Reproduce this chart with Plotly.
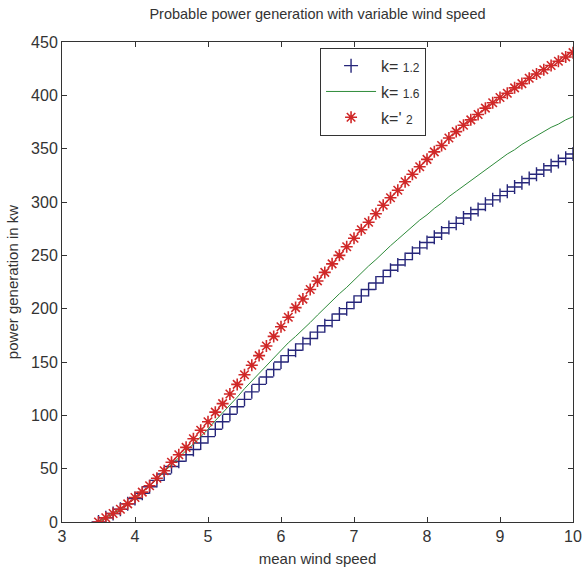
import plotly.graph_objects as go

wind_speed = [3.5, 3.6, 3.7, 3.8, 3.9, 4.0, 4.1, 4.2, 4.3, 4.4, 4.5, 4.6, 4.7, 4.8, 4.9,
              5.0, 5.1, 5.2, 5.3, 5.4, 5.5, 5.6, 5.7, 5.8, 5.9, 6.0, 6.1, 6.2, 6.3, 6.4,
              6.5, 6.6, 6.7, 6.8, 6.9, 7.0, 7.1, 7.2, 7.3, 7.4, 7.5, 7.6, 7.7, 7.8, 7.9,
              8.0, 8.1, 8.2, 8.3, 8.4, 8.5, 8.6, 8.7, 8.8, 8.9, 9.0, 9.1, 9.2, 9.3, 9.4,
              9.5, 9.6, 9.7, 9.8, 9.9, 10.0]

power_k12 = [0, 4, 8, 12, 17, 22, 27, 33, 39, 45, 52, 57, 63, 68, 74,
             80, 87, 94, 101, 108, 115, 122, 129, 136, 143, 150, 156, 161, 167, 172,
             178, 184, 189, 195, 200, 206, 212, 218, 224, 230, 236, 241, 246, 252, 257,
             262, 267, 271, 276, 280, 285, 289, 293, 298, 302, 306, 310, 314, 318, 322,
             326, 330, 334, 338, 341, 345]

power_k16 = [0, 4, 8, 12, 17, 22, 28, 34, 40, 47, 54, 60, 67, 73, 80,
             87, 95, 102, 110, 117, 125, 132, 140, 147, 154, 161, 168, 174, 181, 187,
             194, 201, 207, 214, 220, 227, 233, 240, 246, 253, 259, 265, 271, 277, 283,
             288, 294, 299, 305, 310, 315, 320, 325, 330, 335, 340, 345, 349, 354, 358,
             362, 366, 370, 373, 377, 380]

power_k2 = [0, 4, 8, 12, 17, 23, 28, 34, 41, 48, 56, 63, 70, 78, 86,
            94, 103, 111, 120, 129, 138, 147, 156, 165, 174, 183, 192, 201, 209, 218,
            226, 234, 242, 250, 258, 266, 274, 281, 289, 297, 304, 311, 319, 326, 333,
            340, 347, 353, 360, 366, 372, 377, 382, 388, 393, 398, 402, 407, 411, 416,
            420, 424, 428, 432, 436, 440]

x_ticks = [3, 4, 5, 6, 7, 8, 9, 10]
y_ticks = [0, 50, 100, 150, 200, 250, 300, 350, 400, 450]

FONT = "Liberation Sans, Arial, sans-serif"

def lab(k):
    return "k= <span style='font-size:12px'>" + k + "</span>"

fig = go.Figure()
fig.add_trace(go.Scatter(
    x=wind_speed, y=power_k12, mode="markers", name=lab("1.2"),
    legendgroup="a",
    marker=dict(symbol="cross-thin", size=10, color="#26267a",
                line=dict(color="#26267a", width=1.4))))
fig.add_trace(go.Scatter(
    x=wind_speed, y=power_k16, mode="lines", name=lab("1.6"),
    legendgroup="b",
    line=dict(color="#2e8b3a", width=1)))
fig.add_trace(go.Scatter(
    x=wind_speed, y=power_k2, mode="markers", name="k=' <span style='font-size:12px'>2</span>",
    legendgroup="c",
    marker=dict(symbol="asterisk", size=10, color="#d02828",
                line=dict(color="#d02828", width=1.6))))

axis_common = dict(showline=True, linecolor="#333333", linewidth=1, mirror="ticks",
                   ticks="inside", ticklen=5, tickcolor="#333333", showgrid=False,
                   zeroline=False, tickfont=dict(family=FONT, size=16, color="#333333"))

fig.update_layout(
    width=582, height=572,
    margin=dict(l=62, r=9, t=42, b=50, autoexpand=False),
    paper_bgcolor="white", plot_bgcolor="white",
    font=dict(family=FONT, color="#333333"),
    title=dict(text="Probable power generation with variable wind speed",
               xref="paper", x=0.5, xanchor="center", y=1 - 14 / 572, yanchor="middle",
               font=dict(family=FONT, size=14.5, color="#333333")),
    xaxis=dict(range=[3, 10], tickvals=x_ticks,
               title=dict(text="mean wind speed", standoff=9,
                          font=dict(family=FONT, size=15, color="#333333")),
               **axis_common),
    yaxis=dict(range=[0, 450], tickvals=y_ticks,
               title=dict(text="power generation in kw", standoff=8,
                          font=dict(family=FONT, size=15, color="#333333")),
               **axis_common),
    legend=dict(x=0.505, y=0.988, xanchor="left", yanchor="top",
                bgcolor="white", bordercolor="#333333", borderwidth=1,
                font=dict(family=FONT, size=16, color="#333333"),
                tracegroupgap=2, traceorder="grouped", itemwidth=50),
    showlegend=True,
)

fig.write_html("out.html")
